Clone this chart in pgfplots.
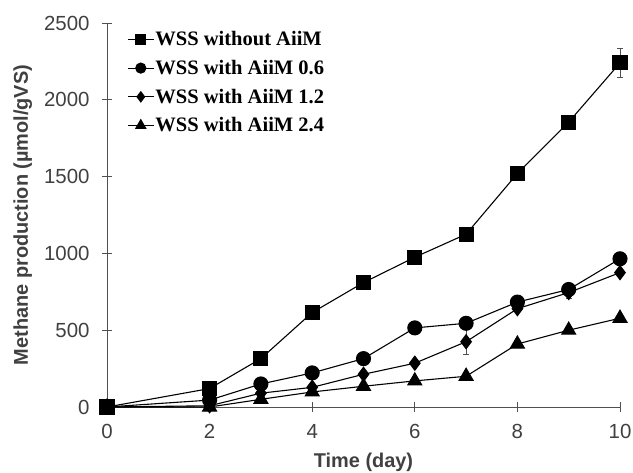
\documentclass[border=0pt]{standalone}
\usepackage{fontspec}
\setmainfont{Liberation Sans}
\newfontfamily\legfont{Liberation Serif}
\usepackage{pgfplots}
\pgfplotsset{compat=1.18}
\definecolor{txtgray}{HTML}{404040}
\definecolor{axgray}{HTML}{505050}
\begin{document}
\begin{tikzpicture}
\begin{axis}[
 scale only axis, width=513bp, height=384bp,
 xmin=0, xmax=10, ymin=0, ymax=2500,
 clip=false,
 axis x line*=bottom, axis y line*=left,
 axis line style={axgray, line width=0.9pt},
 xtick={0,2,...,10}, ytick={0,500,...,2500},
 tick align=center, major tick length=10bp,
 tick style={axgray, line width=0.9pt},
 ticklabel style={font=\fontsize{20.5}{24}\selectfont, text=txtgray},
 xticklabel style={yshift=-9bp},
 yticklabel style={xshift=-9bp},
 /pgf/number format/assume math mode=true,
 /pgf/number format/1000 sep={},
 xlabel={Time (day)}, ylabel={Methane production (µmol/gVS)},
 label style={font=\fontsize{20}{24}\selectfont\bfseries, text=txtgray},
 xlabel style={at={(axis description cs:0.5,-0.143)}, anchor=center},
 ylabel style={at={(axis description cs:-0.164,0.5)}, anchor=center},
 legend style={at={(0.039,0.981)}, anchor=north west, draw=none, fill=none,
   font=\legfont\fontsize{20.6}{21}\selectfont\bfseries, row sep=11bp,
   inner sep=0pt, nodes={inner sep=1bp}},
 legend cell align=left,
 legend image code/.code={\draw[mark repeat=2,mark phase=2, every mark/.append style={scale=0.72}] plot coordinates {(0cm,0cm)(0.46cm,0cm)(0.92cm,0cm)};},
 error bars/error bar style={axgray, line width=0.9pt},
 error bars/error mark options={rotate=90, mark size=3bp, axgray, line width=0.9pt},
]
\addplot[black, line width=1.1pt, mark=square*, mark size=7bp, mark options={solid, fill=black}, error bars/.cd, y dir=both, y explicit]
 coordinates {(0,0)(2,120)(3,315)(4,615)(5,810)(6,975)(7,1125)(8,1520)(9,1855)(10,2240) +- (0,95)};
\addlegendentry{WSS without AiiM}
\addplot[black, line width=1.1pt, mark=*, mark size=7bp, mark options={solid, fill=black}]
 coordinates {(0,0)(2,45)(3,150)(4,222)(5,315)(6,515)(7,545)(8,683)(9,765)(10,965)};
\addlegendentry{WSS with AiiM 0.6}
\addplot[black, line width=1.1pt, mark=diamond*, mark size=7bp, mark options={solid, fill=black}, error bars/.cd, y dir=both, y explicit]
 coordinates {(0,0)(2,8)(3,90)(4,128)(5,213)(6,285)(7,425) +- (0,80) (8,640)(9,745) +- (0,40) (10,875)};
\addlegendentry{WSS with AiiM 1.2}
\addplot[black, line width=1.1pt, mark=triangle*, mark size=8bp, mark options={solid, fill=black}]
 coordinates {(0,0)(2,0)(3,50)(4,98)(5,135)(6,170)(7,200)(8,410)(9,500)(10,578)};
\addlegendentry{WSS with AiiM 2.4}
\coordinate (O) at (rel axis cs:0,0);
\end{axis}
\pgfresetboundingbox
\path[use as bounding box] ([xshift=-107bp,yshift=-66bp]O) rectangle ([xshift=526bp,yshift=407bp]O);
\end{tikzpicture}
\end{document}
